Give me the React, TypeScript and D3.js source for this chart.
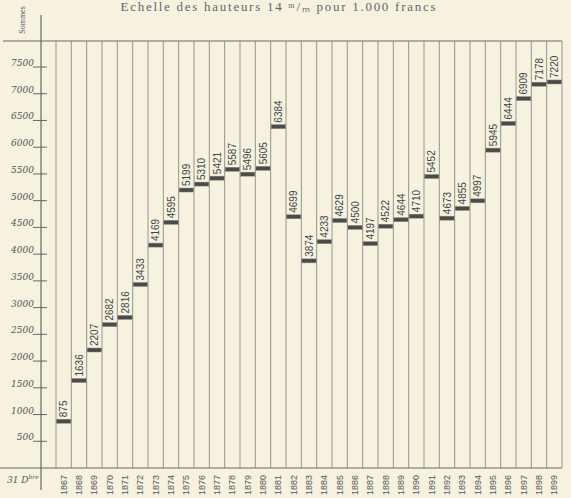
import React, { useEffect, useRef } from 'react';
import * as d3 from 'd3';

const years = [
  '1867', '1868', '1869', '1870', '1871', '1872', '1873', '1874', '1875', '1876', '1877',
  '1878', '1879', '1880', '1881', '1882', '1883', '1884', '1885', '1886', '1887', '1888',
  '1889', '1890', '1891', '1892', '1893', '1894', '1895', '1896', '1897', '1898', '1899',
];
const sommes = [
  875, 1636, 2207, 2682, 2816, 3433, 4169, 4595, 5199, 5310, 5421,
  5587, 5496, 5605, 6384, 4699, 3874, 4233, 4629, 4500, 4197, 4522,
  4644, 4710, 5452, 4673, 4855, 4997, 5945, 6444, 6909, 7178, 7220,
];
const yTicks = [500, 1000, 1500, 2000, 2500, 3000, 3500, 4000, 4500, 5000, 5500, 6000, 6500, 7000, 7500];

const W = 571;
const H = 498;
const paper = '#f6f2e0';
const ink = '#555';

const App: React.FC = () => {
  const svgRef = useRef<SVGSVGElement>(null);

  useEffect(() => {
    if (!svgRef.current) return;
    const svg = d3.select(svgRef.current);
    svg.selectAll('*').remove();

    const top = 41;
    const base = 468;
    const axisX = 41;

    const x = d3.scaleBand().domain(years).range([56, 562]).padding(0);
    const y = d3.scaleLinear().domain([0, 7500]).range([base, 67]);

    svg.append('rect').attr('width', W).attr('height', H).attr('fill', paper);

    // title
    svg.append('text')
      .attr('x', 278)
      .attr('y', 11)
      .attr('text-anchor', 'middle')
      .attr('font-family', 'Liberation Serif, serif')
      .attr('font-size', 13)
      .attr('fill', '#666')
      .attr('textLength', 315)
      .text('Echelle  des  hauteurs  14 ᵐ/ₘ  pour  1.000  francs');

    svg.append('text')
      .attr('transform', `translate(25,20) rotate(-90)`)
      .attr('text-anchor', 'middle')
      .attr('font-family', 'Liberation Serif, serif')
      .attr('font-size', 8)
      .attr('fill', ink)
      .text('Sommes');

    // frame lines
    svg.append('line')
      .attr('x1', 3).attr('x2', 562).attr('y1', top).attr('y2', top)
      .attr('stroke', '#666').attr('stroke-width', 1.2);
    svg.append('line')
      .attr('x1', 0).attr('x2', 562).attr('y1', base).attr('y2', base)
      .attr('stroke', '#666').attr('stroke-width', 1.2);
    svg.append('line')
      .attr('x1', axisX).attr('x2', axisX).attr('y1', 15).attr('y2', 490)
      .attr('stroke', '#666').attr('stroke-width', 1.2);

    // column lines
    const edges = years.map(d => x(d) as number).concat([x.range()[1]]);
    svg.append('g').selectAll('line')
      .data(edges)
      .enter()
      .append('line')
      .attr('x1', d => d).attr('x2', d => d)
      .attr('y1', top).attr('y2', base)
      .attr('stroke', '#8a8a84').attr('stroke-width', 0.9);

    // y ticks
    const yg = svg.append('g');
    yg.selectAll('line')
      .data(yTicks)
      .enter()
      .append('line')
      .attr('x1', 33).attr('x2', 47)
      .attr('y1', d => y(d)).attr('y2', d => y(d))
      .attr('stroke', '#666');
    yg.selectAll('text')
      .data(yTicks)
      .enter()
      .append('text')
      .attr('x', 34)
      .attr('y', d => y(d) - 1)
      .attr('text-anchor', 'end')
      .attr('font-family', 'DejaVu Serif, serif')
      .attr('font-style', 'italic')
      .attr('font-size', 9)
      .attr('fill', ink)
      .text(d => String(d));

    // 31 Décembre
    const dec = svg.append('text')
      .attr('x', 7).attr('y', 483)
      .attr('font-family', 'DejaVu Serif, serif')
      .attr('font-style', 'italic')
      .attr('font-size', 9)
      .attr('fill', ink);
    dec.append('tspan').text('31 D');
    dec.append('tspan').attr('dy', -4).attr('font-size', 6).text('bre');

    // year labels
    svg.append('g').selectAll('text')
      .data(years)
      .enter()
      .append('text')
      .attr('transform', d => `translate(${(x(d) as number) + x.bandwidth() / 2 + 3},495) rotate(-90)`)
      .attr('font-family', 'Liberation Sans, sans-serif')
      .attr('font-size', 9)
      .attr('fill', ink)
      .text(d => d);

    const data = years.map((yr, i) => ({ yr, v: sommes[i] }));

    // level marks
    svg.append('g').selectAll('rect')
      .data(data)
      .enter()
      .append('rect')
      .attr('x', d => (x(d.yr) as number) + 0.5)
      .attr('y', d => y(d.v) - 2)
      .attr('width', x.bandwidth() - 1)
      .attr('height', 4)
      .attr('fill', '#4a4a46')
      .attr('stroke', '#888')
      .attr('stroke-width', 0.5);

    // value labels
    svg.append('g').selectAll('text')
      .data(data)
      .enter()
      .append('text')
      .attr('transform', d => `translate(${(x(d.yr) as number) + x.bandwidth() / 2 + 3.5},${y(d.v) - 4}) rotate(-90)`)
      .attr('font-family', 'Liberation Sans, sans-serif')
      .attr('font-size', 10)
      .attr('fill', '#444')
      .text(d => String(d.v));
  }, []);

  return (
    <div style={{ position: 'absolute', left: 0, top: 0 }}>
      <svg ref={svgRef} width={W} height={H} style={{ display: 'block' }}></svg>
    </div>
  );
};

export default App;
